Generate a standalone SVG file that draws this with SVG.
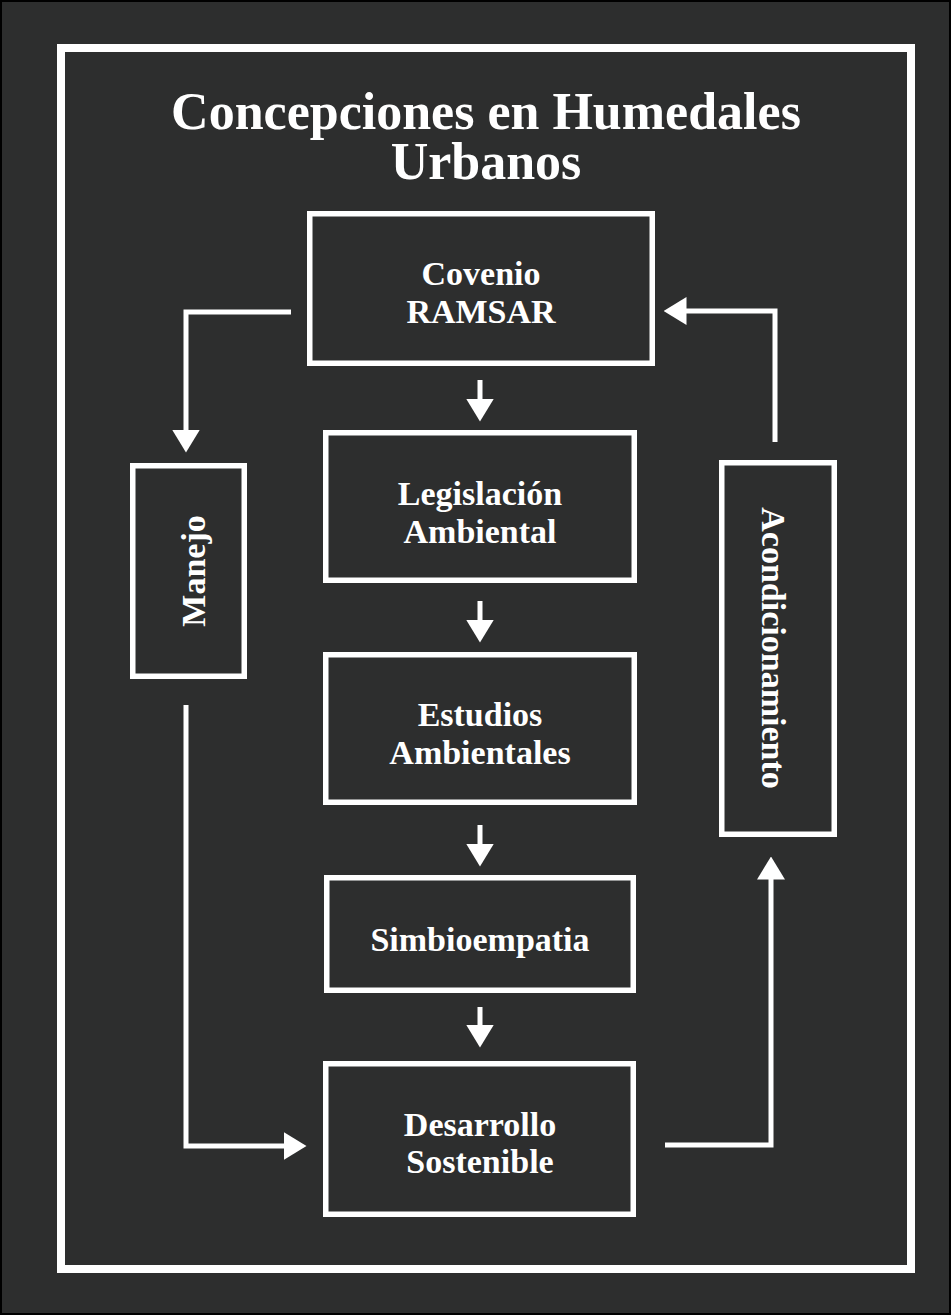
<svg xmlns="http://www.w3.org/2000/svg" width="951" height="1315" viewBox="0 0 951 1315">
<style>
.bg{fill:#2d2e2e;stroke:#000;stroke-width:2}
.frame{fill:none;stroke:#fff;stroke-width:8}
.box{fill:#2d2e2e;stroke:#fff;stroke-width:5.5}
.conn{fill:none;stroke:#fff;stroke-width:5}
.t{fill:#fff;font-family:"Liberation Serif","Times New Roman",serif;font-weight:bold;text-anchor:middle}
.title{font-size:52px}
.lbl{font-size:34px}
</style>
<defs>
<marker id="ah" viewBox="0 -14 23 28" markerWidth="23" markerHeight="28" refX="0.5" refY="0" orient="auto" markerUnits="userSpaceOnUse">
<path d="M0,-14 L23,0 L0,14 z" fill="#fff"/>
</marker>
</defs>
<rect class="bg" x="1" y="1" width="949" height="1313"/>
<rect class="frame" x="61" y="48" width="850" height="1221"/>
<g id="title">
<text class="t title"><tspan x="486" y="129">Concepciones en Humedales</tspan><tspan x="486" y="179">Urbanos</tspan></text>
</g>
<g id="connectors">
<path class="conn" d="M480,380 V399" marker-end="url(#ah)"/>
<path class="conn" d="M480,601 V620" marker-end="url(#ah)"/>
<path class="conn" d="M480,825 V844" marker-end="url(#ah)"/>
<path class="conn" d="M480,1007 V1025" marker-end="url(#ah)"/>
<path class="conn" d="M291,312 H186 V430" marker-end="url(#ah)"/>
<path class="conn" d="M186,705 V1146 H284" marker-end="url(#ah)"/>
<path class="conn" d="M665,1145 H771 V879" marker-end="url(#ah)"/>
<path class="conn" d="M775,442 V311 H686" marker-end="url(#ah)"/>
</g>
<g id="covenio">
<rect class="box" x="309.75" y="213.75" width="342.5" height="149.5"/>
<text class="t lbl" x="481" y="285">Covenio</text>
<text class="t lbl" x="481" y="323">RAMSAR</text>
</g>
<g id="legislacion">
<rect class="box" x="325.75" y="432.75" width="308.5" height="147.5"/>
<text class="t lbl" x="480" y="505">Legislación</text>
<text class="t lbl" x="480" y="543">Ambiental</text>
</g>
<g id="estudios">
<rect class="box" x="325.75" y="654.75" width="308.5" height="147.5"/>
<text class="t lbl" x="480" y="726">Estudios</text>
<text class="t lbl" x="480" y="764">Ambientales</text>
</g>
<g id="simbioempatia">
<rect class="box" x="326.75" y="877.75" width="306.5" height="112.5"/>
<text class="t lbl" x="480" y="951">Simbioempatia</text>
</g>
<g id="desarrollo">
<rect class="box" x="325.75" y="1063.75" width="307.5" height="150.5"/>
<text class="t lbl" x="480" y="1136">Desarrollo</text>
<text class="t lbl" x="480" y="1173">Sostenible</text>
</g>
<g id="manejo">
<rect class="box" x="132.75" y="465.75" width="111.5" height="210.5"/>
<text class="t lbl" transform="translate(205,571) rotate(-90)" x="0" y="0">Manejo</text>
</g>
<g id="acondicionamiento">
<rect class="box" x="721.75" y="462.75" width="112.5" height="371.5"/>
<text class="t lbl" transform="translate(762,648) rotate(90)" x="0" y="0">Acondicionamiento</text>
</g>
</svg>
